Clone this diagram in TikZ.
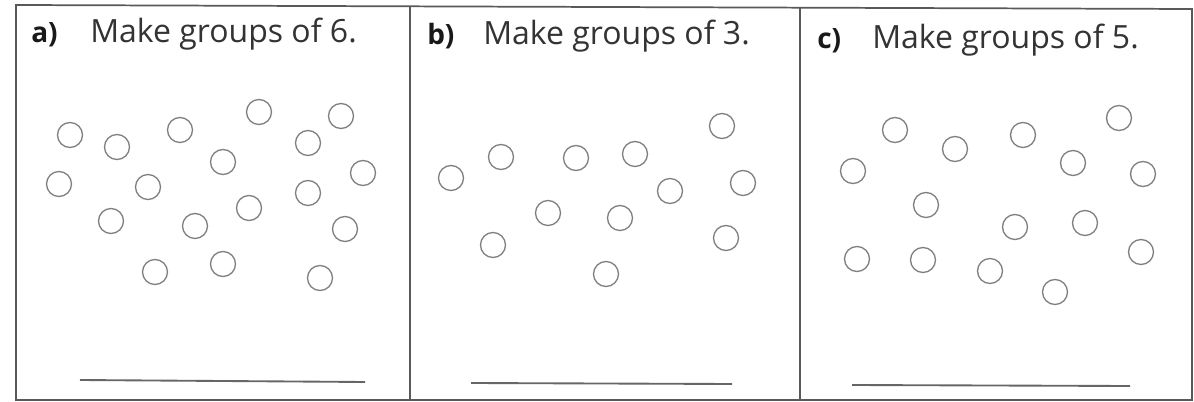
\documentclass[tikz,border=0pt]{standalone}
\usepackage{fontspec}
\setmainfont{Open Sans}
\begin{document}
\begin{tikzpicture}[x=0.75pt,y=-0.75pt]
\tikzset{
  frame/.style={black!65, line width=1.3pt},
  ring/.style={black!50, line width=1pt},
  answer/.style={black!60, line width=1.4pt},
  tag/.style={anchor=base west, inner sep=0pt, font=\fontsize{21}{24}\selectfont\bfseries, text=black!90},
  task/.style={anchor=base west, inner sep=0pt, font=\fontsize{24}{27}\selectfont, text=black!80}
}
\useasboundingbox (0,0) rectangle (1194,402);
\fill[white] (0,0) rectangle (1194,402);
% panels
\draw[frame] (16,5) -- (1192,9) -- (1192,400) -- (16,400) -- cycle;
\draw[frame] (410,6) -- (410,400);
\draw[frame] (800,7) -- (800,400);
% headings
\node[tag] (tag-a) at (31,43) {a)};
\node[task] (task-a) at (90,43) {Make groups of 6.};
\node[tag] (tag-b) at (427,45) {b)};
\node[task] (task-b) at (483,45) {Make groups of 3.};
\node[tag] (tag-c) at (817,49) {c)};
\node[task] (task-c) at (872,49) {Make groups of 5.};
% counters
\foreach \x/\y in {70/135, 117/147, 180/130, 259/112, 341/116, 308/143, 223/162,
  59/184, 148/187, 363/173, 308/193, 249/208, 111/221, 195/226, 345/229,
  155/272, 223/264, 320/278}
  \draw[ring] (\x,\y) circle (12.5);
\foreach \x/\y in {722/126, 501/157, 576/158, 635/154, 451/178, 743/183, 670/191,
  548/213, 620/218, 493/245, 726/238, 606/274}
  \draw[ring] (\x,\y) circle (12.5);
\foreach \x/\y in {1119/118, 895/130, 1023/135, 955/149, 1073/163, 853/171, 1143/174,
  926/205, 1015/227, 1085/223, 857/259, 923/260, 1141/252, 990/271, 1055/292}
  \draw[ring] (\x,\y) circle (12.5);
% answer lines
\coordinate (la1) at (80,380); \coordinate (la2) at (365,382);
\coordinate (lb1) at (471,383); \coordinate (lb2) at (732,384);
\coordinate (lc1) at (852,385); \coordinate (lc2) at (1130,386);
\draw[answer] (la1) -- (la2);
\draw[answer] (lb1) -- (lb2);
\draw[answer] (lc1) -- (lc2);
\end{tikzpicture}
\end{document}
